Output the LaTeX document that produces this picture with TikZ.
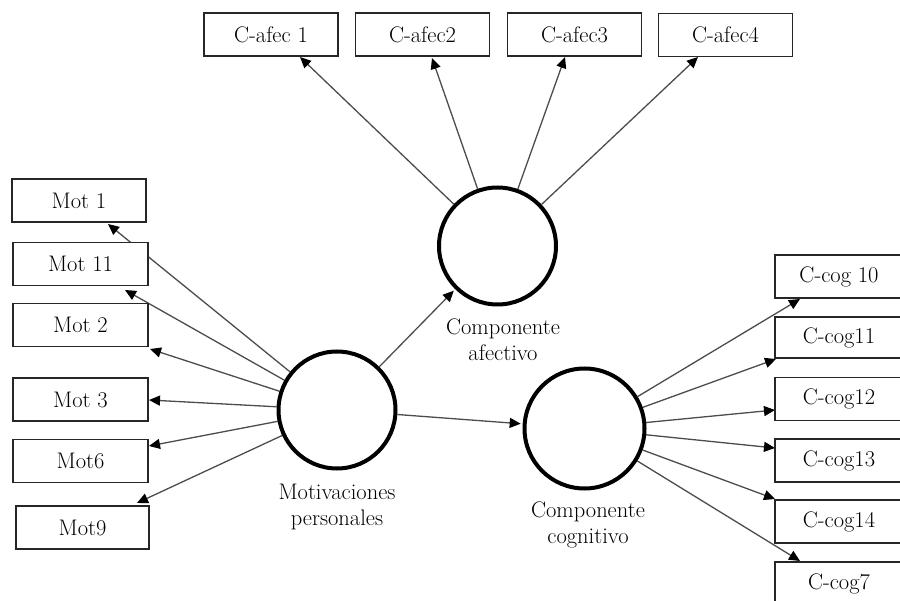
\documentclass[tikz,border=0pt]{standalone}
\usetikzlibrary{arrows.meta}
\pgfdeclarelayer{links}
\pgfsetlayers{links,main}
\begin{document}
\begin{tikzpicture}[x=1pt,y=-1pt,
  lbl/.style={font=\fontsize{22.5}{26}\selectfont, text=black},
  obs/.style={lbl, draw=black!85, line width=1.6pt, fill=white,
              minimum height=43pt, inner sep=0pt},
  topobs/.style={obs, minimum width=134pt},
  leftobs/.style={obs, minimum width=135pt},
  rightobs/.style={obs, minimum width=128pt},
  latent/.style={circle, draw=black, line width=4pt, fill=white,
                 minimum size=117pt, inner sep=0pt},
  caption/.style={lbl, align=center},
  link/.style={draw=black!70, line width=1.3pt,
               -{Triangle[length=11pt,width=10pt,color=black]}}]
\useasboundingbox (0,0) rectangle (900,601);
\clip (0,0) rectangle (900,601);

% latent variables
\node[latent] (caf) at (497.5,246) {};
\node[latent] (mot) at (337,410) {};
\node[latent, minimum size=120pt] (cog) at (584.5,428.5) {};

\node[caption] at (503,340) {Componente\\afectivo};
\node[caption] at (337,507) {Motivaciones\\personales};
\node[caption] at (588,525) {Componente\\cognitivo};

% affective indicators
\node[topobs] (af1) at (271,34.5)   {C-afec 1};
\node[topobs] (af2) at (422.5,34.5) {C-afec2};
\node[topobs] (af3) at (574.5,34.5) {C-afec3};
\node[topobs] (af4) at (725.5,35)   {C-afec4};

% motivation indicators
\node[leftobs, minimum width=134pt] (m1) at (79,200.5) {Mot 1};
\node[leftobs] (m11) at (80.5,264)  {Mot 11};
\node[leftobs] (m2)  at (80.5,325)  {Mot 2};
\node[leftobs] (m3)  at (80.5,399.5){Mot 3};
\node[leftobs] (m6)  at (80.5,461)  {Mot6};
\node[leftobs, minimum width=133pt] (m9) at (82.5,527.5) {Mot9};

% cognitive indicators
\node[rightobs] (c10) at (839,276.5) {C-cog 10};
\node[rightobs, minimum height=41pt] (c11) at (839,337.5) {C-cog11};
\node[rightobs] (c12) at (839,399)   {C-cog12};
\node[rightobs] (c13) at (839,460.5) {C-cog13};
\node[rightobs] (c14) at (839,521.5) {C-cog14};
\node[rightobs] (c7)  at (839,583.5) {C-cog7};

% arrow end points on the indicator boxes
\coordinate (taf1) at (300,57);
\coordinate (taf2) at (432,58);
\coordinate (taf3) at (565,57);
\coordinate (taf4) at (698,57);
\coordinate (tm1)  at (108,224);
\coordinate (tm11) at (125,290);
\coordinate (tm2)  at (150,349);
\coordinate (tm3)  at (149,400);
\coordinate (tm6)  at (149,446);
\coordinate (tm9)  at (137,503);
\coordinate (tc10) at (800,299);
\coordinate (tc11) at (776,359);
\coordinate (tc12) at (775,410);
\coordinate (tc13) at (775,448);
\coordinate (tc14) at (775,499);
\coordinate (tc7)  at (800,561);

\begin{pgfonlayer}{links}
  \foreach \t in {taf1,taf2,taf3,taf4}
    \draw[link] (caf) -- (\t);
  \foreach \t in {tm1,tm11,tm2,tm3,tm6,tm9}
    \draw[link] (mot) -- (\t);
  \foreach \t in {tc10,tc11,tc12,tc13,tc14,tc7}
    \draw[link] (cog) -- (\t);
\end{pgfonlayer}

% structural paths
\draw[link, shorten >=2pt] (mot) -- (caf);
\draw[link, shorten >=2pt] (mot) -- (cog);
\end{tikzpicture}
\end{document}
